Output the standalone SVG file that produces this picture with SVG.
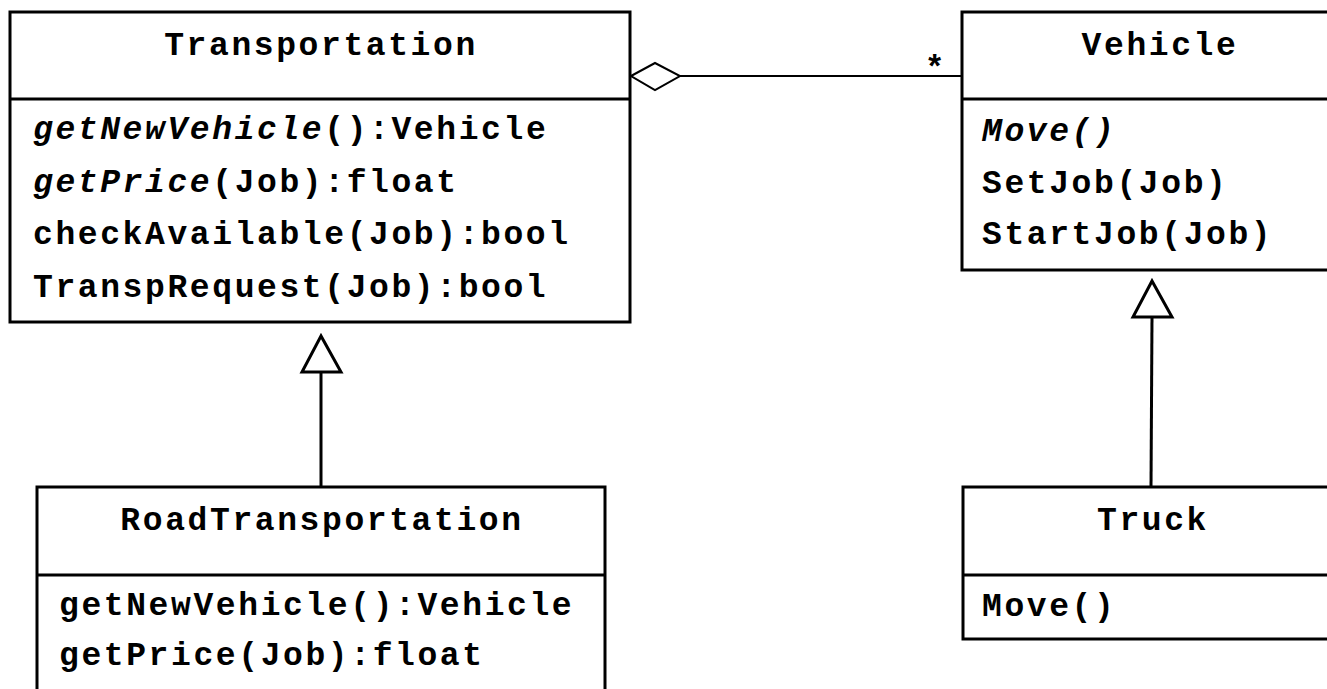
<svg xmlns="http://www.w3.org/2000/svg" width="1327" height="689" viewBox="0 0 1327 689">
  <style>
    .box { fill: #fff; stroke: #000; stroke-width: 3; }
    .sep { stroke: #000; stroke-width: 3; }
    .t { font-family: "Liberation Mono", "Courier New", monospace; font-weight: bold; font-size: 33px; letter-spacing: 2.6px; fill: #000; }
    .title { text-anchor: middle; }
    .it { font-style: italic; }
    .conn { fill: none; stroke: #000; }
  </style>
  <rect width="1327" height="689" fill="#fff"/>

  <!-- connectors -->
  <g id="connectors">
    <!-- aggregation: Transportation (whole) to Vehicle (parts) -->
    <line class="conn" x1="680" y1="76" x2="962" y2="76" stroke-width="2"/>
    <polygon class="conn" points="631,76 655,63 680,76 655,90" fill="#fff" stroke-width="2"/>
    <text class="t" x="936" y="78" font-size="28" letter-spacing="0" text-anchor="middle">*</text>
    <!-- generalization: RoadTransportation to Transportation -->
    <line class="conn" x1="321" y1="372" x2="321" y2="487" stroke-width="3"/>
    <polygon class="conn" points="321,336 302,372 341,372" fill="#fff" stroke-width="3"/>
    <!-- generalization: Truck to Vehicle -->
    <line class="conn" x1="1152" y1="317" x2="1151" y2="487" stroke-width="3"/>
    <polygon class="conn" points="1152,281 1133,317 1172,317" fill="#fff" stroke-width="3"/>
  </g>

  <g id="transportation">
    <rect class="box" x="10" y="12" width="620" height="310"/>
    <line class="sep" x1="10" y1="99" x2="630" y2="99"/>
    <text class="t title" x="321" y="55">Transportation</text>
    <text class="t" x="33" y="139"><tspan class="it">getNewVehicle</tspan>():Vehicle</text>
    <text class="t" x="33" y="192"><tspan class="it">getPrice</tspan>(Job):float</text>
    <text class="t" x="33" y="244">checkAvailable(Job):bool</text>
    <text class="t" x="33" y="297">TranspRequest(Job):bool</text>
  </g>

  <g id="vehicle">
    <rect class="box" x="962" y="12" width="400" height="258"/>
    <line class="sep" x1="962" y1="99" x2="1362" y2="99"/>
    <text class="t title" x="1160" y="55">Vehicle</text>
    <text class="t it" x="982" y="141">Move()</text>
    <text class="t" x="982" y="193">SetJob(Job)</text>
    <text class="t" x="982" y="244">StartJob(Job)</text>
  </g>

  <g id="roadtransportation">
    <rect class="box" x="37" y="487" width="568" height="230"/>
    <line class="sep" x1="37" y1="575" x2="605" y2="575"/>
    <text class="t title" x="322" y="530">RoadTransportation</text>
    <text class="t" x="59" y="615">getNewVehicle():Vehicle</text>
    <text class="t" x="59" y="665">getPrice(Job):float</text>
  </g>

  <g id="truck">
    <rect class="box" x="963" y="487" width="400" height="152"/>
    <line class="sep" x1="963" y1="575" x2="1363" y2="575"/>
    <text class="t title" x="1153" y="530">Truck</text>
    <text class="t" x="982" y="616">Move()</text>
  </g>
</svg>
